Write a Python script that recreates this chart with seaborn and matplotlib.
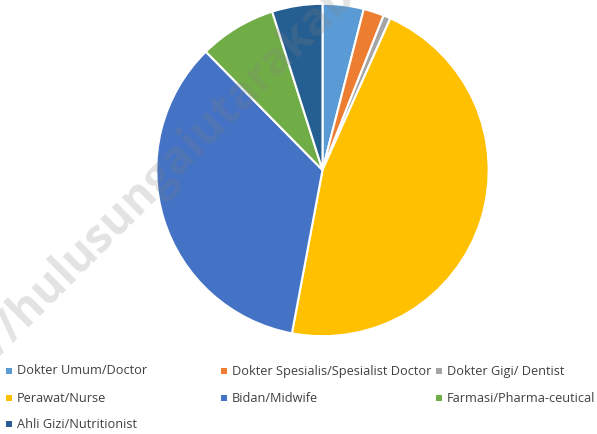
import matplotlib
matplotlib.use("Agg")
import matplotlib.pyplot as plt
from matplotlib.patches import Rectangle
import seaborn as sns

sns.set_theme(style="white")
plt.rcParams['font.family'] = ['Open Sans', 'DejaVu Sans']

# tenaga kesehatan (percent share)
labels = ['Dokter Umum/Doctor', 'Dokter Spesialis/Spesialist Doctor', 'Dokter Gigi/ Dentist',
          'Perawat/Nurse', 'Bidan/Midwife', 'Farmasi/Pharma-ceutical', 'Ahli Gizi/Nutritionist']
values = [4.0, 2.0, 0.7, 46.3, 34.7, 7.5, 4.9]
colors = ['#5B9BD5', '#ED7D31', '#A5A5A5', '#FFC000', '#4472C4', '#70AD47', '#255E91']
pal = sns.color_palette(colors)

W, H = 597, 434
fig = plt.figure(figsize=(W / 100, H / 100), dpi=100)

cx, cy, r = 322.5, 170, 167
ax = fig.add_axes([(cx - r) / W, (H - cy - r) / H, 2 * r / W, 2 * r / H])
ax.pie(values, colors=pal, startangle=90, counterclock=False,
       wedgeprops=dict(edgecolor='white', linewidth=1.5))
ax.set_xlim(-1.005, 1.005)
ax.set_ylim(-1.005, 1.005)
ax.set_aspect('equal')
ax.axis('off')

# legend, excel-like grid
col_x = [9, 224, 439]
row_y = [371, 398, 424]
for i, (lab, c) in enumerate(zip(labels, pal)):
    x = col_x[i % 3]
    y = row_y[i // 3]
    fig.add_artist(Rectangle(((x - 3) / W, (H - y - 3) / H), 6 / W, 6 / H,
                             transform=fig.transFigure, facecolor=c, edgecolor='none'))
    fig.text((x + 8) / W, (H - y) / H, lab, fontsize=9.2, color='#404040',
             va='center', ha='left')

# watermark
fig.text(-80 / W, (H - 433) / H, 'http://hulusungaiutarakab.bps.go.id', fontsize=33,
         fontweight='bold', color='gray', alpha=0.22, rotation=45,
         rotation_mode='anchor', ha='left', va='baseline')

plt.savefig("out.png", dpi=100)
